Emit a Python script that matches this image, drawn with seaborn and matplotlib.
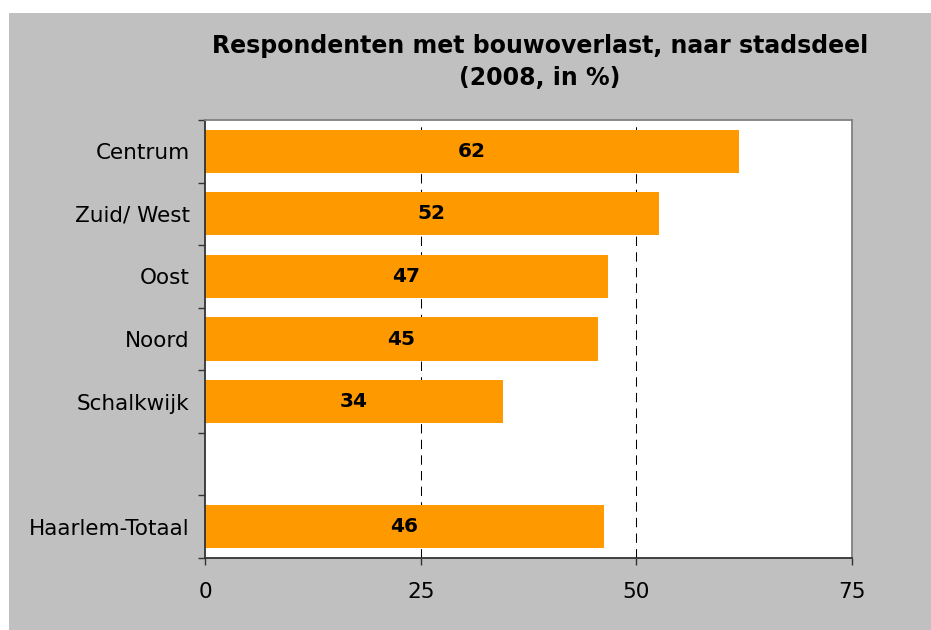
import matplotlib
matplotlib.use("Agg")
import matplotlib.pyplot as plt
import seaborn as sns
import pandas as pd
import numpy as np
from matplotlib.patches import Rectangle

# Data
categories = ["Centrum", "Zuid/ West", "Oost", "Noord", "Schalkwijk", " ", "Haarlem-Totaal"]
values = [61.9, 52.6, 46.7, 45.5, 34.5, np.nan, 46.2]
value_labels = ["62", "52", "47", "45", "34", "46"]
x_ticks = [0, 25, 50, 75]
title = "Respondenten met bouwoverlast, naar stadsdeel\n(2008, in %)"

df = pd.DataFrame({"stadsdeel": categories, "pct": values})
plot_df = df.dropna()

sns.set_theme(style="white")
plt.rcParams["font.family"] = ["DejaVu Sans"]
plt.rcParams["text.color"] = "black"

fig = plt.figure(figsize=(9.31, 6.3), dpi=100)
fig.patch.set_facecolor("white")
fig.patches.append(Rectangle((9 / 931, 0), 1, 1 - 13 / 630, transform=fig.transFigure,
                             facecolor="#C0C0C0", edgecolor="none", zorder=-10))

ax = fig.add_axes([205 / 931, 1 - 558 / 630, (852 - 205) / 931, (558 - 120) / 630])
ax.set_facecolor("white")

sns.barplot(data=plot_df, x="pct", y="stadsdeel", order=categories, orient="h",
            color="#FF9900", saturation=1, width=0.69, ax=ax, edgecolor="none")

ax.bar_label(ax.containers[0], labels=value_labels, label_type="center",
             fontsize=14.5, fontweight="bold", color="black")

ax.set_xlim(0, 75)
ax.set_ylim(len(categories) - 0.5, -0.5)
ax.set_xticks(x_ticks)
ax.set_xticklabels([str(t) for t in x_ticks], fontsize=15.5)
ax.set_yticks(range(len(categories)))
ax.set_yticklabels(categories, fontsize=15.5)
ax.set_yticks(np.arange(-0.5, len(categories), 1.0), minor=True)
ax.tick_params(axis="y", which="major", length=0, pad=11, labelcolor="black")
ax.tick_params(axis="y", which="minor", length=5, width=1, color="#333333", left=True)
ax.tick_params(axis="x", which="major", length=5, width=1, color="#333333", bottom=True, pad=12,
               labelcolor="black")
ax.set_xlabel("")
ax.set_ylabel("")

for g in [25, 50]:
    ax.axvline(g, color="black", linestyle=(0, (9, 6)), linewidth=0.75, zorder=0.5)

for side in ["left", "bottom"]:
    ax.spines[side].set_color("#333333")
    ax.spines[side].set_linewidth(1.3)
    ax.spines[side].set_visible(True)
for side in ["top", "right"]:
    ax.spines[side].set_color("#808080")
    ax.spines[side].set_linewidth(1.3)
    ax.spines[side].set_visible(True)

fig.text(540 / 931, 1 - 62 / 630, title, ha="center", va="center", fontsize=17,
         fontweight="bold", color="black", linespacing=1.4)

fig.savefig("out.png", dpi=100, facecolor=fig.get_facecolor())
